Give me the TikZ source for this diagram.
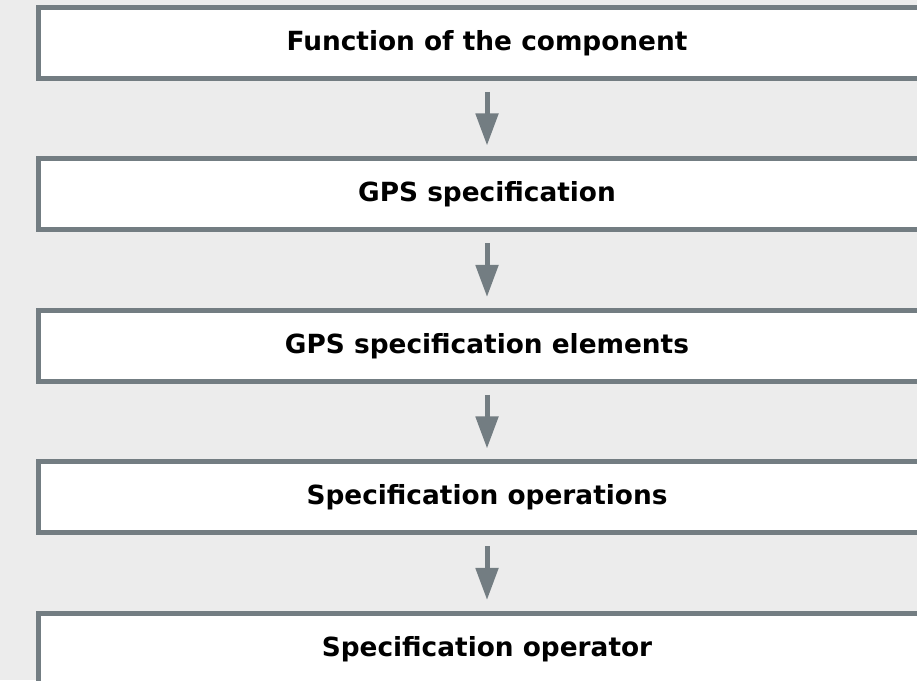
\documentclass[tikz,border=0pt]{standalone}
\usepackage{fontspec}
\setmainfont{DejaVu Sans}
\usepackage{xcolor}
\definecolor{boxgray}{RGB}{115, 125, 130}
\definecolor{bggray}{RGB}{236, 236, 236}
\usepackage{tikz}
\usetikzlibrary{
    arrows.meta,
    positioning
}

\begin{document}
\begin{tikzpicture}[
  node distance=1.51cm,
  stage/.style={draw=boxgray, line width=0.1cm, fill=white,
    minimum width=17.96cm, minimum height=1.42cm,
    font=\fontsize{15}{18}\selectfont\bfseries},
  arrow/.style={draw=boxgray, line width=0.1cm,
    -{Triangle[length=0.64cm, width=0.44cm]},
    shorten <=0.22cm, shorten >=0.22cm}
]

\fill[bggray] (0,0) rectangle (18.34,13.6);
\useasboundingbox (0,0) rectangle (18.34,13.6);
\clip (0,0) rectangle (18.34,13.6);

\node[stage] (func) at (9.74,12.74) {Function of the component};
\node[stage] (spec) [below=of func] {GPS specification};
\node[stage] (elem) [below=of spec] {GPS specification elements};
\node[stage] (oper) [below=of elem] {Specification operations};
\node[stage] (optr) [below=of oper] {Specification operator};

\draw[arrow] (func) -- (spec);
\draw[arrow] (spec) -- (elem);
\draw[arrow] (elem) -- (oper);
\draw[arrow] (oper) -- (optr);

\end{tikzpicture}
\end{document}
